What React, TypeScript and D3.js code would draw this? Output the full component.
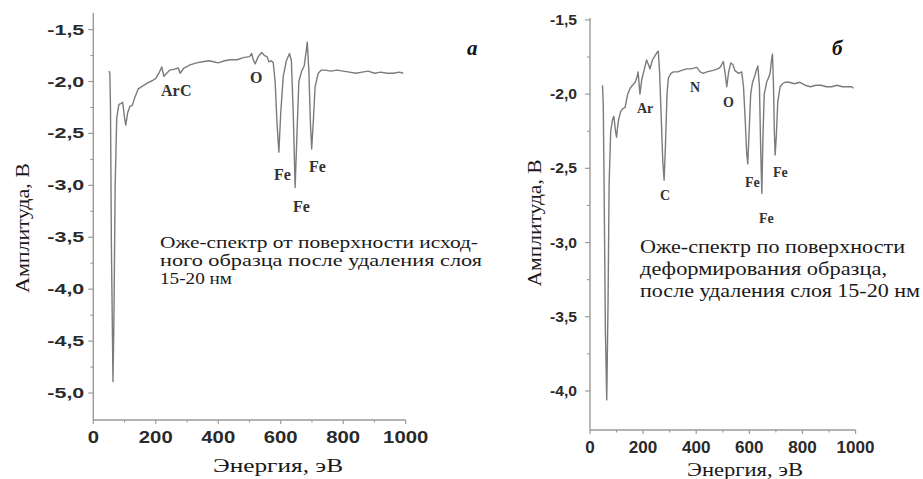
import React from "react";
import * as d3 from "d3";

// Auger spectrum (a): initial sample surface after removing a 15-20 nm layer
const energyA = [50, 53, 55, 58, 63, 66, 70, 75, 82, 90, 94, 100, 104, 110, 117, 125, 132, 144, 160, 175, 190, 200, 210, 219, 226, 235, 245, 260, 272, 278, 290, 310, 330, 350, 370, 385, 400, 420, 440, 460, 480, 500, 507, 512, 518, 528, 539, 548, 556, 562, 570, 576, 582, 588, 594, 600, 608, 618, 628, 634, 640, 646, 652, 658, 667, 675, 681, 685, 690, 695, 699, 704, 710, 720, 730, 742, 760, 780, 800, 820, 840, 860, 880, 900, 920, 940, 960, 980, 992];
const amplitudeA = [-1.9, -1.92, -2.25, -3.6, -4.89, -4.3, -3.0, -2.35, -2.22, -2.21, -2.2, -2.35, -2.42, -2.3, -2.24, -2.23, -2.16, -2.07, -2.04, -2.01, -1.99, -1.97, -1.92, -1.86, -1.95, -1.92, -1.89, -1.88, -1.87, -1.92, -1.87, -1.84, -1.82, -1.81, -1.8, -1.81, -1.82, -1.8, -1.79, -1.79, -1.77, -1.76, -1.73, -1.79, -1.83, -1.76, -1.72, -1.75, -1.76, -1.81, -1.8, -1.82, -2.0, -2.4, -2.68, -2.3, -1.95, -1.8, -1.73, -1.8, -2.3, -3.02, -2.5, -2.0, -1.9, -1.85, -1.72, -1.62, -1.9, -2.4, -2.65, -2.4, -2.05, -1.92, -1.89, -1.89, -1.9, -1.89, -1.9, -1.91, -1.92, -1.91, -1.9, -1.92, -1.91, -1.92, -1.92, -1.91, -1.92];

// Auger spectrum (б): deformed sample surface after removing a 15-20 nm layer
const energyB = [47, 50, 53, 58, 63, 68, 72, 78, 85, 90, 96, 100, 104, 108, 115, 122, 132, 142, 151, 160, 170, 178, 181, 188, 195, 205, 213, 220, 226, 235, 245, 252, 257, 262, 268, 274, 279, 284, 290, 295, 305, 314, 330, 345, 364, 380, 402, 415, 426, 440, 464, 480, 490, 502, 508, 515, 522, 530, 538, 545, 552, 560, 571, 578, 585, 590, 594, 598, 605, 612, 620, 626, 632, 638, 643, 647, 651, 656, 665, 672, 678, 684, 687, 691, 694, 697, 701, 707, 716, 725, 734, 750, 770, 790, 810, 830, 850, 870, 890, 910, 930, 950, 970, 985, 992];
const amplitudeB = [-1.94, -2.08, -2.6, -3.6, -4.06, -3.4, -2.6, -2.25, -2.17, -2.15, -2.25, -2.29, -2.22, -2.17, -2.12, -2.1, -2.09, -2.0, -1.96, -1.94, -1.92, -1.88, -1.85, -2.0, -1.9, -1.83, -1.77, -1.8, -1.83, -1.77, -1.74, -1.72, -1.71, -1.85, -2.15, -2.45, -2.58, -2.35, -2.0, -1.89, -1.86, -1.85, -1.85, -1.84, -1.83, -1.83, -1.82, -1.85, -1.86, -1.85, -1.84, -1.83, -1.82, -1.78, -1.85, -1.95, -1.85, -1.79, -1.8, -1.84, -1.85, -1.86, -1.85, -1.95, -2.2, -2.4, -2.47, -2.3, -2.0, -1.92, -1.88, -1.84, -1.81, -1.95, -2.4, -2.67, -2.3, -2.0, -1.92, -1.89, -1.86, -1.76, -1.73, -1.95, -2.25, -2.41, -2.3, -2.05, -1.95, -1.93, -1.92, -1.92, -1.93, -1.92, -1.94, -1.95, -1.94, -1.94, -1.95, -1.95, -1.94, -1.95, -1.95, -1.95, -1.96];

const xTicks = [0, 200, 400, 600, 800, 1000];
const xMinorTicks = [100, 300, 500, 700, 900];
const yTicksA = [-1.5, -2.0, -2.5, -3.0, -3.5, -4.0, -4.5, -5.0];
const yTicksB = [-1.5, -2.0, -2.5, -3.0, -3.5, -4.0];

const yTitle = "Амплитуда, В";
const xTitle = "Энергия, эВ";
const captionA = ["Оже-спектр от поверхности исход-", "ного образца после удаления слоя", "15-20 нм"];
const captionB = ["Оже-спектр по поверхности", "деформирования образца,", "после удаления слоя 15-20 нм"];

// Element labels: [text, x (px), baseline (px)]
const peakLabelsA: [string, number, number][] = [
  ["Ar", 161, 96], ["C", 180, 96], ["O", 250, 83],
  ["Fe", 274, 180], ["Fe", 293, 212], ["Fe", 309, 172],
];
const peakLabelsB: [string, number, number][] = [
  ["Ar", 637, 113], ["C", 660, 200], ["N", 690, 92], ["O", 723, 107],
  ["Fe", 745, 187], ["Fe", 759, 223], ["Fe", 773, 177],
];

const locale = d3.formatLocale({ decimal: ",", thousands: " ", grouping: [3], currency: ["", ""], minus: "-" });
const fmtY = locale.format(".1f");

const SERIF = "'Liberation Serif', 'DejaVu Serif', serif";
const SANS = "'Liberation Sans', Arial, sans-serif";

interface PanelCfg {
  energy: number[];
  amplitude: number[];
  yTicks: number[];
  xRange: [number, number];
  yDomain: [number, number];
  yRange: [number, number];
  yLabelGap: number;
  yLabelWidth: number;
  yLabelSize: number;
  xLabelCharW: number;
  xLabelY: number;
  peakLabels: [string, number, number][];
  peakSize: number;
  caption: string[];
  captionX: number;
  captionY: number;
  captionStep: number;
  captionSize: number;
  captionWidths: number[];
  yTitlePos: [number, number];
  yTitleLen: number;
  xTitlePos: [number, number];
  xTitleLen: number;
  letter: string;
  letterPos: [number, number];
}

function Panel({ c }: { c: PanelCfg }) {
  const x = d3.scaleLinear().domain([0, 1000]).range(c.xRange);
  const y = d3.scaleLinear().domain(c.yDomain).range(c.yRange);
  const pts = c.energy.map((e, i) => [e, c.amplitude[i]] as [number, number]);
  const path = d3.line<[number, number]>().x((d) => x(d[0])).y((d) => y(d[1]))(pts) || "";
  const x0 = c.xRange[0];
  const yBase = c.yRange[0];
  const yMinor = c.yTicks.slice(0, -1).map((t) => t - 0.25);
  const axisColor = "#9a9a9a";
  return (
    <g>
      {/* axes */}
      <line x1={x0} x2={x0} y1={c.yRange[1]} y2={yBase} stroke={axisColor} strokeWidth={1.4} />
      <line x1={x0} x2={c.xRange[1]} y1={yBase} y2={yBase} stroke={axisColor} strokeWidth={1.4} />
      {c.yTicks.map((t) => (
        <g key={"y" + t}>
          <line x1={x0 - 5} x2={x0} y1={y(t)} y2={y(t)} stroke={axisColor} strokeWidth={1.2} />
          <text x={x0 - c.yLabelGap} y={y(t)} dy="0.36em" textAnchor="end" fontFamily={SANS} fontWeight="bold"
            fontSize={c.yLabelSize} fill="#2a2a2a" textLength={c.yLabelWidth} lengthAdjust="spacingAndGlyphs">
            {fmtY(t)}
          </text>
        </g>
      ))}
      {yMinor.map((t) => (
        <line key={"ym" + t} x1={x0 - 3} x2={x0} y1={y(t)} y2={y(t)} stroke={axisColor} strokeWidth={1.1} />
      ))}
      {xTicks.map((t) => (
        <g key={"x" + t}>
          <line x1={x(t)} x2={x(t)} y1={yBase} y2={yBase + 4} stroke={axisColor} strokeWidth={1.2} />
          <text x={x(t)} y={c.xLabelY} textAnchor="middle" fontFamily={SANS} fontWeight="bold" fontSize={17}
            fill="#2a2a2a" textLength={String(t).length * c.xLabelCharW} lengthAdjust="spacingAndGlyphs">
            {String(t)}
          </text>
        </g>
      ))}
      {xMinorTicks.map((t) => (
        <line key={"xm" + t} x1={x(t)} x2={x(t)} y1={yBase} y2={yBase + 2.5} stroke={axisColor} strokeWidth={1.1} />
      ))}
      {/* spectrum */}
      <path d={path} fill="none" stroke="#7b7b7b" strokeWidth={1.4} strokeLinejoin="round" />
      {c.peakLabels.map(([s, lx, ly], i) => (
        <text key={"p" + i} x={lx} y={ly} fontFamily={SERIF} fontWeight="bold" fontSize={c.peakSize} fill="#333">
          {s}
        </text>
      ))}
      {c.caption.map((s, i) => (
        <text key={"c" + i} x={c.captionX} y={c.captionY + i * c.captionStep} fontFamily={SERIF}
          fontSize={c.captionSize} fill="#1a1a1a" textLength={c.captionWidths[i]} lengthAdjust="spacingAndGlyphs">
          {s}
        </text>
      ))}
      <text transform={`translate(${c.yTitlePos[0]},${c.yTitlePos[1]}) rotate(-90)`} textAnchor="middle" dy="0.35em"
        fontFamily={SERIF} fontSize={19} fill="#1a1a1a" textLength={c.yTitleLen} lengthAdjust="spacingAndGlyphs">
        {yTitle}
      </text>
      <text x={c.xTitlePos[0]} y={c.xTitlePos[1]} textAnchor="middle" fontFamily={SERIF} fontSize={19} fill="#1a1a1a"
        textLength={c.xTitleLen} lengthAdjust="spacingAndGlyphs">
        {xTitle}
      </text>
      <text x={c.letterPos[0]} y={c.letterPos[1]} fontFamily={SERIF} fontStyle="italic" fontWeight="bold" fontSize={21} fill="#111">
        {c.letter}
      </text>
    </g>
  );
}

const panelA: PanelCfg = {
  energy: energyA, amplitude: amplitudeA, yTicks: yTicksA,
  xRange: [93.3, 405.7], yDomain: [-5.26, -1.34], yRange: [420, 13],
  yLabelGap: 9, yLabelWidth: 37, yLabelSize: 14, xLabelCharW: 11.3, xLabelY: 443,
  peakLabels: peakLabelsA, peakSize: 16,
  caption: captionA, captionX: 160, captionY: 248, captionStep: 18, captionSize: 17, captionWidths: [318, 322, 72],
  yTitlePos: [22, 228], yTitleLen: 130, xTitlePos: [278, 472], xTitleLen: 130,
  letter: "а", letterPos: [467, 55],
};

const panelB: PanelCfg = {
  energy: energyB, amplitude: amplitudeB, yTicks: yTicksB,
  xRange: [590, 855.6], yDomain: [-4.263, -1.487], yRange: [430, 18],
  yLabelGap: 13, yLabelWidth: 27, yLabelSize: 14, xLabelCharW: 9.5, xLabelY: 453,
  peakLabels: peakLabelsB, peakSize: 14,
  caption: captionB, captionX: 640, captionY: 253, captionStep: 22, captionSize: 19, captionWidths: [265, 247, 280],
  yTitlePos: [534, 223], yTitleLen: 127, xTitlePos: [745, 476], xTitleLen: 116,
  letter: "б", letterPos: [832, 55],
};

export default function App() {
  return (
    <svg width={923} height={479} style={{ position: "absolute", left: 0, top: 0, background: "#fff" }}>
      <rect width={923} height={479} fill="#fff" />
      <Panel c={panelA} />
      <Panel c={panelB} />
    </svg>
  );
}
